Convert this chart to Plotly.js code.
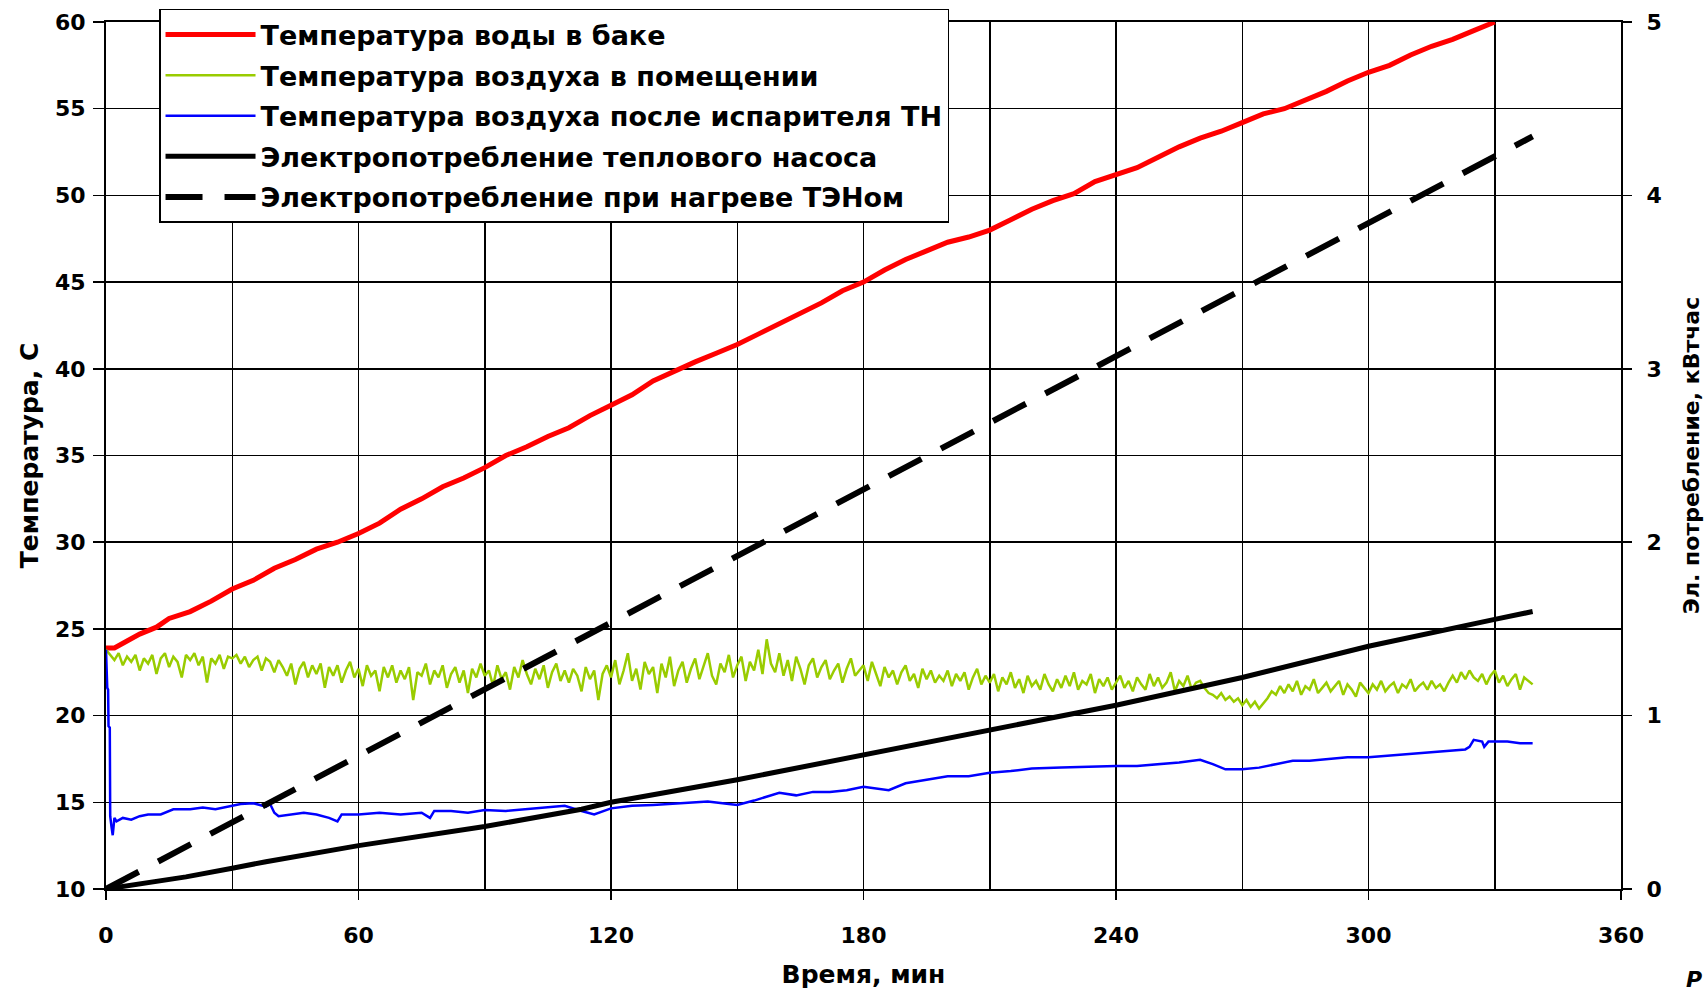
<!DOCTYPE html>
<html><head><meta charset="utf-8">
<script src="https://cdn.plot.ly/plotly-3.0.1.min.js"></script>
<style>html,body{margin:0;padding:0;background:#fff;}#chart{width:1704px;height:991px;}</style>
</head><body><div id="chart"></div>
<script>
// Series names
const seriesNames = [
  'Температура воды в баке',
  'Температура воздуха в помещении',
  'Температура воздуха после испарителя ТН',
  'Электропотребление теплового насоса',
  'Электропотребление при нагреве ТЭНом'
];

// Water temperature in the tank (min, °C)
const waterMin = [0,2,5,8,12,15,20,25,30,35,40,45,50,55,60,65,70,75,80,85,90,95,100,105,110,115,120,125,130,136,140,145,150,155,160,165,170,175,180,185,190,195,200,205,210,215,220,225,230,235,240,245,250,255,260,265,270,275,280,285,290,295,300,305,310,315,320,325,330];
const waterT = [23.9,23.9,24.3,24.7,25.1,25.6,26.0,26.6,27.3,27.8,28.5,29.0,29.6,30.0,30.5,31.1,31.9,32.5,33.2,33.7,34.3,35.0,35.5,36.1,36.6,37.3,37.9,38.5,39.3,40.0,40.4,40.9,41.4,42.0,42.6,43.2,43.8,44.5,45.0,45.7,46.3,46.8,47.3,47.6,48.0,48.6,49.2,49.7,50.1,50.8,51.2,51.6,52.2,52.8,53.3,53.7,54.2,54.7,55.0,55.5,56.0,56.6,57.1,57.5,58.1,58.6,59.0,59.5,60.0];

// Room air temperature, one reading per minute from 0 to 339
const roomT = [
23.8,23.5,23.2,23.6,22.9,23.4,23.1,23.5,22.6,23.3,
23.0,23.5,22.4,23.3,23.6,22.8,23.4,23.1,22.2,23.5,
23.2,23.6,22.9,23.4,21.9,23.3,23.0,23.5,22.7,23.4,
23.3,23.5,23.0,23.4,22.8,23.2,23.4,22.6,23.3,23.1,
22.5,23.2,22.8,22.3,23.0,21.8,22.7,23.1,22.2,22.9,
22.4,23.0,21.6,22.8,22.3,22.9,21.9,22.6,23.1,22.2,
22.7,21.7,22.9,22.3,22.6,21.4,22.8,22.2,22.9,21.9,
22.6,22.1,22.8,20.9,22.5,22.3,23.0,21.8,22.6,22.2,
22.9,21.6,22.4,22.8,21.9,22.6,21.3,22.7,22.2,23.0,
22.3,22.6,21.7,22.9,22.1,22.5,21.5,22.8,22.2,23.2,
22.4,21.8,22.7,22.1,22.9,21.6,22.5,23.0,22.0,22.6,
21.9,22.7,22.3,21.4,22.8,22.1,22.6,20.9,22.4,22.9,
22.2,23.2,21.8,22.6,23.6,22.0,22.7,21.5,23.1,22.4,
22.8,21.3,23.0,22.2,23.4,21.7,22.6,23.1,21.9,22.7,
23.3,22.1,22.8,23.6,22.3,21.8,23.0,22.5,23.5,22.2,
22.9,23.4,22.0,23.1,22.6,23.8,22.4,24.4,23.0,22.5,
23.6,22.3,23.2,22.0,23.4,22.7,21.8,22.9,23.3,22.2,
22.8,23.2,22.1,22.6,23.0,21.9,22.7,23.3,22.3,22.6,
22.9,22.0,23.1,22.4,21.7,22.8,22.2,22.6,21.8,22.5,
22.9,22.0,22.4,21.6,22.7,22.1,22.6,21.9,22.3,22.0,
22.6,21.7,22.4,22.0,22.5,21.5,22.2,22.7,21.8,22.3,
21.9,22.4,21.4,22.2,21.8,22.5,21.6,22.1,21.3,22.3,
21.7,22.0,21.5,22.4,21.8,21.4,22.1,21.6,22.3,21.7,
22.5,21.5,22.0,21.8,22.4,21.3,22.1,21.7,22.2,21.5,
21.9,22.3,21.6,22.0,21.4,22.2,21.8,21.5,22.4,21.7,
22.2,21.6,21.9,22.5,21.4,22.0,21.7,22.3,21.5,21.9,
22.0,21.6,21.3,21.2,21.0,21.3,20.9,21.1,20.8,21.0,
20.6,20.9,20.5,20.8,20.4,20.7,21.0,21.4,21.2,21.7,
21.3,21.8,21.4,22.0,21.2,21.7,21.5,22.1,21.3,21.6,
21.9,21.4,21.7,22.0,21.2,21.8,21.5,21.1,21.9,21.6,
21.3,21.8,21.5,22.0,21.4,21.7,21.9,21.3,21.8,21.6,
22.1,21.4,21.7,21.9,21.5,22.0,21.6,21.8,21.4,21.9,
22.3,21.9,22.5,22.1,22.6,22.2,22.0,22.4,21.8,22.3,
22.6,21.9,22.3,21.7,22.1,22.4,21.5,22.2,22.0,21.8];
const roomMin = roomT.map((_, i) => i);

// Air temperature after the heat-pump evaporator
const evapMin = [0,0.3,0.5,0.6,0.9,1.0,1.3,1.6,2.0,2.5,4,6,8,10,13,16,20,23,26,30,32,35,37,38,39,40,41,44,47,50,53,55,56,58,60,65,70,75,77,78,82,86,90,95,100,105,109,113,116,120,125,130,136,143,148,150,154,158,160,164,168,172,176,180,183,186,190,195,200,205,210,215,220,227,233,240,245,250,255,260,263,266,270,274,278,282,286,290,295,300,305,310,314,318,323,324,325,327,327.5,328.5,330,333,336,339];
const evapT = [23.8,21.6,21.5,19.4,19.3,14.2,13.6,13.1,14.1,13.9,14.1,14.0,14.2,14.3,14.3,14.6,14.6,14.7,14.6,14.8,14.9,14.95,14.8,14.75,14.9,14.4,14.2,14.3,14.4,14.3,14.1,13.9,14.3,14.3,14.3,14.4,14.3,14.4,14.1,14.5,14.5,14.4,14.56,14.5,14.6,14.7,14.8,14.5,14.3,14.65,14.8,14.85,14.95,15.05,14.9,14.85,15.1,15.4,15.55,15.4,15.6,15.6,15.7,15.9,15.8,15.7,16.1,16.3,16.5,16.5,16.7,16.8,16.95,17.0,17.05,17.1,17.1,17.2,17.3,17.45,17.2,16.9,16.9,17.0,17.2,17.4,17.4,17.5,17.6,17.6,17.7,17.8,17.9,17.95,18.05,18.2,18.6,18.5,18.2,18.5,18.5,18.5,18.4,18.4];

// Heat pump energy consumption (kWh)
const hpMin = [0,19,30,38,60,68,90,113,120,150,180,210,227,240,270,300,330,339];
const hpKWh = [0,0.07,0.12,0.157,0.25,0.28,0.36,0.46,0.50,0.63,0.773,0.917,1.0,1.06,1.22,1.40,1.555,1.6];

// Electric heater energy consumption (kWh)
const tenMin = [0,339];
const tenKWh = [0,4.34];

// Axis ticks
const xTicks = [0,60,120,180,240,300,360];
const yTicks = [10,15,20,25,30,35,40,45,50,55,60];
const y2Ticks = [0,1,2,3,4,5];

const FONT = 'DejaVu Sans, Arial, sans-serif';
const tickFont = {family: FONT, size: 22, color: '#000', weight: 'bold'};

const traces = [
  {x: waterMin, y: waterT, name: seriesNames[0], type: 'scatter', mode: 'lines', legendgroup: 'a',
   line: {color: '#ff0000', width: 5}},
  {x: roomMin, y: roomT, name: seriesNames[1], type: 'scatter', mode: 'lines', legendgroup: 'b',
   line: {color: '#99cc00', width: 2.5}},
  {x: evapMin, y: evapT, name: seriesNames[2], type: 'scatter', mode: 'lines', legendgroup: 'c',
   line: {color: '#0000ff', width: 2.5}},
  {x: hpMin, y: hpKWh, name: seriesNames[3], type: 'scatter', mode: 'lines', yaxis: 'y2', legendgroup: 'd',
   line: {color: '#000', width: 5}},
  {x: tenMin, y: tenKWh, name: seriesNames[4], type: 'scatter', mode: 'lines', yaxis: 'y2', legendgroup: 'e',
   line: {color: '#000', width: 6, dash: '37px,22px'}},
  {x: [], y: [], yaxis: 'y3', showlegend: false, type: 'scatter', hoverinfo: 'skip'}
];

const layout = {
  width: 1704, height: 991,
  margin: {l: 106, r: 83, t: 22, b: 102, pad: 0, autoexpand: false},
  paper_bgcolor: '#fff', plot_bgcolor: '#fff',
  showlegend: true,
  legend: {
    x: 0.035, y: 1.015, xanchor: 'left', yanchor: 'top',
    bgcolor: '#fff', bordercolor: '#000', borderwidth: 1.5,
    font: {family: FONT, size: 27, color: '#000', weight: 'bold'},
    itemwidth: 90, traceorder: 'grouped', tracegroupgap: 2.5
  },
  xaxis: {
    range: [0, 360], tickvals: xTicks, ticktext: xTicks.map(String),
    showgrid: true, gridcolor: '#000', gridwidth: 1.5,
    minor: {dtick: 30, tick0: 0, showgrid: true, gridcolor: '#000', gridwidth: 1.5},
    showline: true, linecolor: '#000', linewidth: 2, mirror: true,
    ticks: 'outside', ticklen: 9, tickwidth: 1.5, tickcolor: '#000',
    tickfont: tickFont, ticklabelstandoff: 17, zeroline: false,
    title: {text: 'Время, мин', font: {family: FONT, size: 25, color: '#000', weight: 'bold'}, standoff: 18}
  },
  yaxis: {
    range: [10, 60], tickvals: yTicks, ticktext: yTicks.map(String),
    showgrid: true, gridcolor: '#000', gridwidth: 1.5,
    showline: true, linecolor: '#000', linewidth: 2, mirror: true,
    ticks: 'outside', ticklen: 11, tickwidth: 1.5, tickcolor: '#000',
    tickfont: tickFont, ticklabelstandoff: 3, zeroline: false,
    title: {text: 'Температура, С', font: {family: FONT, size: 25, color: '#000', weight: 'bold'}, standoff: 9}
  },
  yaxis2: {
    range: [0, 5], tickvals: y2Ticks, ticktext: y2Ticks.map(String),
    overlaying: 'y', side: 'right', showgrid: false,
    showline: true, linecolor: '#000', linewidth: 2,
    ticks: 'outside', ticklen: 9, tickwidth: 1.5, tickcolor: '#000',
    tickfont: tickFont, ticklabelstandoff: 10, zeroline: false,
    title: {text: 'Эл. потребление, кВтчас', font: {family: FONT, size: 22, color: '#000', weight: 'bold'}, standoff: 28}
  },
  yaxis3: {
    range: [0, 5], tickvals: y2Ticks, overlaying: 'y', side: 'right', showgrid: false,
    showline: false, ticks: 'inside', ticklen: 9, tickwidth: 1.5, tickcolor: '#000',
    showticklabels: false, zeroline: false
  },
  annotations: [{
    text: '<i>Р</i>', xref: 'paper', yref: 'paper', x: 1.0545, y: -0.088,
    xanchor: 'right', yanchor: 'top', showarrow: false,
    font: {family: FONT, size: 22, color: '#000', weight: 'bold'}
  }]
};

Plotly.newPlot('chart', traces, layout, {displayModeBar: false, staticPlot: true});
</script>
</body></html>
